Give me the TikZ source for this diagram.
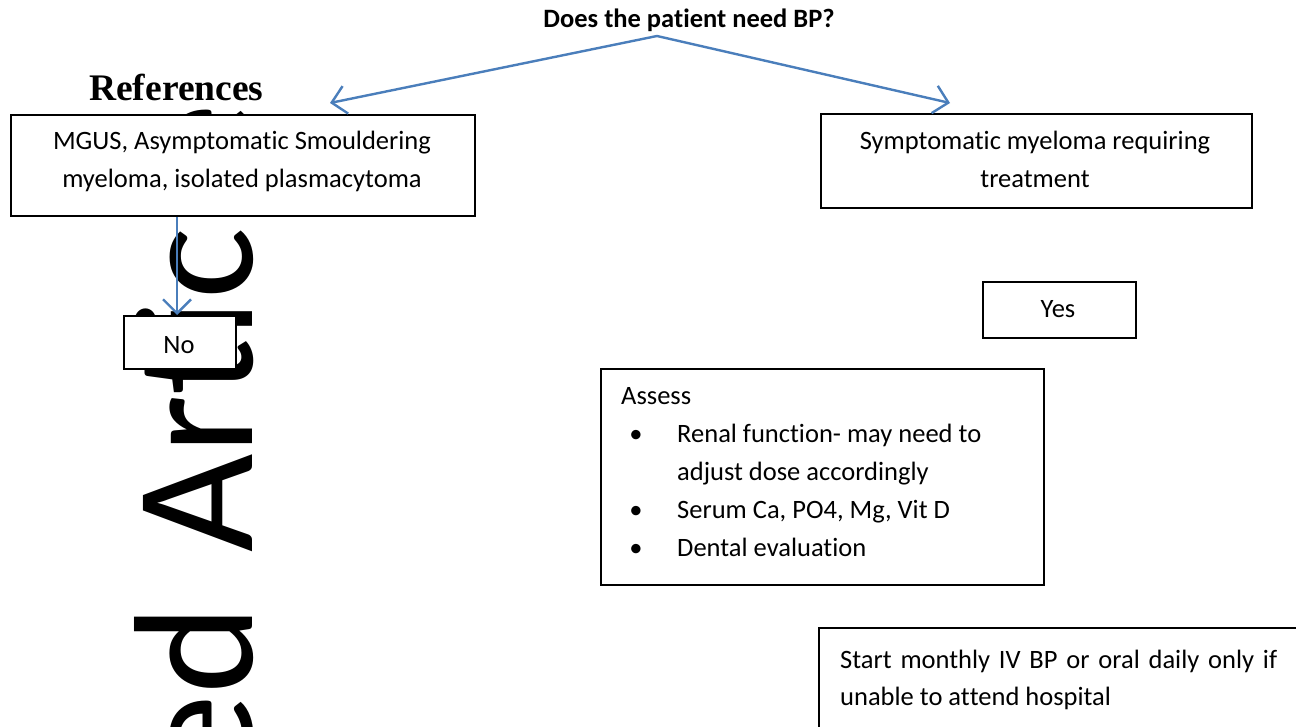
\documentclass[tikz,border=0pt]{standalone}
\usepackage{fontspec}
\setmainfont{Carlito}[Ligatures={NoCommon,NoContextual}]
\newfontfamily\wmfont{Carlito}[Ligatures={NoCommon,NoContextual}]
\newfontfamily\refsfont{Liberation Serif}
\usetikzlibrary{arrows.meta}
\definecolor{offblue}{HTML}{4A7EBB}
\begin{document}
\begin{tikzpicture}[x=1pt,y=1pt,
  box/.style={draw=black, line width=1.8pt, fill=white, inner sep=0pt, anchor=north west},
  txt/.style={inner sep=0pt, anchor=base, font=\fontsize{26.5}{38}\selectfont},
  ltxt/.style={txt, anchor=base west},
  conn/.style={draw=offblue, line width=2.4pt, -{Straight Barb[length=14pt,width=28pt,line width=2.4pt]}}]
\useasboundingbox (0,0) rectangle (1296,-727);
\clip (0,0) rectangle (1296,-727);
\fill[white] (0,0) rectangle (1296,-727);
% watermark
\node[rotate=90, anchor=base west, inner sep=0pt, font=\wmfont\fontsize{170}{170}\selectfont] (wm) at (252,-553) {\llap{Accepted\hspace{53pt}}Art\kern0pt i\kern0pt c\kern0pt le};
% heading
\node[anchor=base west, inner sep=0pt, font=\refsfont\bfseries\fontsize{37.5}{37.5}\selectfont] (refs) at (89,-101) {References};
\node[txt, font=\bfseries\fontsize{26.5}{38}\selectfont] (q) at (689,-28) {Does the pat\kern0pt ient need BP?};
% boxes
\node[box, minimum width=464pt, minimum height=101pt] (mgus) at (10,-114) {};
\node[box, minimum width=431pt, minimum height=94pt] (sympt) at (820,-113) {};
\node[box, minimum width=153pt, minimum height=56pt] (yes) at (982,-281) {};
\node[box, minimum width=112pt, minimum height=53pt] (nobox) at (123,-315) {};
\node[box, minimum width=443pt, minimum height=216pt] (assess) at (600,-368) {};
\node[box, minimum width=520pt, minimum height=150pt] (start) at (818,-627) {};
% texts
\node[txt] (m1) at (242,-150) {MGUS, Asymptomat\kern0pt ic Smouldering};
\node[txt] (m2) at (242,-188) {myeloma, isolated plasmacytoma};
\node[txt] (s1) at (1035,-150) {Symptomat\kern0pt ic myeloma requiring};
\node[txt] (s2) at (1035,-188) {treatment};
\node[txt] (yt) at (1058,-318) {Yes};
\node[txt] (nt) at (179,-353) {No};
\node[ltxt] (a0) at (621,-404) {Assess};
\node[txt] (b1) at (636,-442) {•};
\node[txt] (b2) at (636,-518) {•};
\node[txt] (b3) at (636,-556) {•};
\node[ltxt] (a1) at (677,-442) {Renal funct\kern0pt ion- may need to};
\node[ltxt] (a2) at (677,-480) {adjust dose accordingly};
\node[ltxt] (a3) at (677,-518) {Serum Ca, PO4, Mg, Vit D};
\node[ltxt] (a4) at (677,-556) {Dental evaluat\kern0pt ion};
\node[ltxt] (st1) at (840,-668) {\makebox[437pt][s]{Start monthly IV BP or oral daily only if}};
\node[ltxt] (st2) at (840,-705) {unable to at\kern0pt tend hospital};
% connectors
\coordinate (apex) at (657,-36);
\coordinate (tipL) at (330,-103);
\coordinate (tipR) at (950,-103);
\coordinate (vx) at (177,0);
\draw[conn] (apex) -- (tipL);
\draw[conn] (apex) -- (tipR);
\draw[conn] (mgus.south -| vx) -- (nobox.north -| vx);
\end{tikzpicture}
\end{document}
